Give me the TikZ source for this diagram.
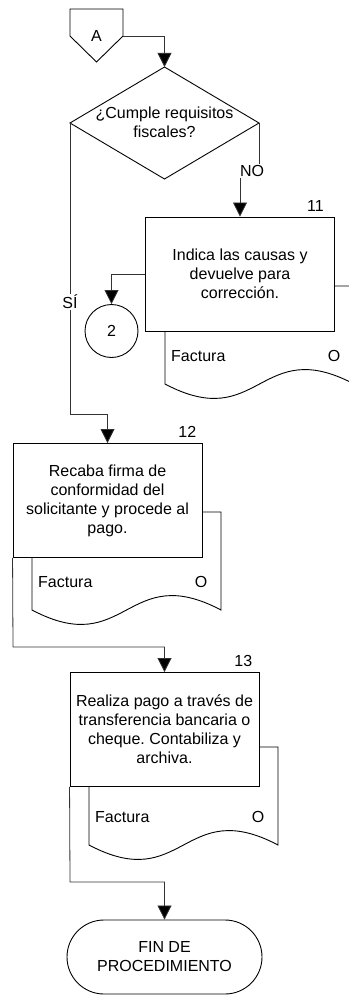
\documentclass[tikz,border=0pt]{standalone}
\usepackage{fontspec}
\setmainfont{Liberation Sans}
\usetikzlibrary{arrows.meta,calc}
\frenchspacing
\begin{document}
\begin{tikzpicture}[x=1pt,y=-1pt,
  every node/.style={font=\fontsize{16}{19}\selectfont, inner sep=0pt},
  shp/.style={draw=black, line width=0.9pt},
  conn/.style={draw=black!80, line width=0.8pt},
  arr/.style={conn, -{Triangle[length=14pt,width=14pt,fill=black]}},
  proc/.style={shp, fill=white, minimum width=189pt, minimum height=114pt, align=center},
  lbl/.style={fill=white, inner sep=1pt},
  docpic/.pic={
    \draw[shp, fill=white] (0,0) -- (189,0) -- (189,98)
      .. controls (94.5,48) and (94.5,148) .. (0,98) -- cycle;
    \node[anchor=west] (-f) at (6,70) {Factura};
    \node (-o) at (169,70) {O};
  }
]
\useasboundingbox (0,0) rectangle (348,995);

% off-page connector A
\coordinate (pA1) at (70,9);
\coordinate (pA2) at (123,9);
\coordinate (aout) at (123,36);
\coordinate (pA4) at (96.5,62);
\coordinate (pA5) at (70,36);
\draw[shp] (pA1) -- (pA2) -- (aout) -- (pA4) -- (pA5) -- cycle;
\node (Alabel) at (96.5,36) {A};

% decision
\coordinate (dtop) at (164.5,67);
\coordinate (dright) at (259,123);
\coordinate (dbot) at (164.5,179);
\coordinate (dleft) at (70,123);
\draw[shp] (dtop) -- (dright) -- (dbot) -- (dleft) -- cycle;
\node[align=center] (dec) at (164.5,122) {¿Cumple requisitos\\fiscales?};

% documents (behind the boxes)
\pic (d11) at (165,286) {docpic};
\pic (d12) at (32,512) {docpic};
\pic (d13) at (89,747) {docpic};

% process boxes
\node[proc] (b11) at (240,274) {Indica las causas y\\devuelve para\\corrección.};
\node[proc] (b12) at (107.5,500.5) {Recaba firma de\\conformidad del\\solicitante y procede al\\pago.};
\node[proc] (b13) at (164.5,729.5) {Realiza pago a través de\\transferencia bancaria o\\cheque. Contabiliza y\\archiva.};

\node[anchor=east] (n11) at ($(b11.north east)+(-11,-11)$) {11};
\node[anchor=east] (n12) at ($(b12.north east)+(-6,-11)$) {12};
\node[anchor=east] (n13) at ($(b13.north east)+(-7,-11)$) {13};

% connector 2
\node[shp, circle, minimum size=53pt] (c2) at (111.5,331) {2};

% terminal
\node[shp, rounded corners=37pt, minimum width=195pt, minimum height=74pt, align=center] (term) at (164.5,957) {FIN DE\\PROCEDIMIENTO};

% connectors
\draw[arr] (aout) -| (dtop);
\coordinate (nojog) at (259,170);
\draw[arr] (dright) -- (nojog) -| (b11.north);
\node[lbl] (no) at (252,171) {NO};
\coordinate (sijog) at (70,414);
\draw[arr] (dleft) -- (sijog) -| (b12.north);
\node[lbl] (si) at (70,302) {SÍ};
\draw[arr] (b11.west) -| (c2.north);
\coordinate (j12) at (13,647);
\draw[arr] (b12.south west) -- (j12) -| (b13.north);
\coordinate (j13) at (70,882);
\draw[arr] (b13.south west) -- (j13) -| (term.north);
\end{tikzpicture}
\end{document}
